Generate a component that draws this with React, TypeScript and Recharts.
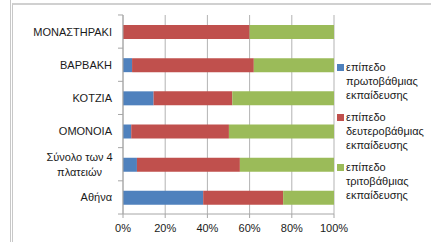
import { BarChart, Bar, XAxis, YAxis, CartesianGrid } from 'recharts';

const categories = [
  'ΜΟΝΑΣΤΗΡΑΚΙ',
  'ΒΑΡΒΑΚΗ',
  'ΚΟΤΖΙΑ',
  'ΟΜΟΝΟΙΑ',
  'Σύνολο των 4|πλατειών',
  'Αθήνα',
];

const primary = [0, 4.3, 14.5, 3.9, 6.6, 38];
const secondary = [60, 57.7, 37.3, 46.3, 48.8, 37.9];
const tertiary = [40, 38, 48.2, 49.8, 44.6, 24.1];

const xTicks = [0, 20, 40, 60, 80, 100];

const seriesNames = [
  'επίπεδο πρωτοβάθμιας εκπαίδευσης',
  'επίπεδο δευτεροβάθμιας εκπαίδευσης',
  'επίπεδο τριτοβάθμιας εκπαίδευσης',
];
const colors = ['#4f81bd', '#c0504d', '#9bbb59'];

const data = categories.map((name, i) => ({
  name,
  p: primary[i],
  s: secondary[i],
  t: tertiary[i],
}));

const AXIS_X = 123;
const HALF_BAND = 16.6;
const FONT = '"Liberation Sans", Arial, sans-serif';

function CategoryTick(props: any) {
  const { y, payload, index } = props;
  const lines: string[] = String(payload.value).split('|');
  const last = index === categories.length - 1;
  const maxLen = Math.max(...lines.map((l) => l.length));
  const multi = lines.length > 1;
  const tx = multi ? AXIS_X - 11 - (maxLen * 5.4) / 2 : AXIS_X - 11;
  return (
    <g>
      <line x1={AXIS_X - 5} x2={AXIS_X} y1={y - HALF_BAND} y2={y - HALF_BAND} stroke="#a6a6a6" />
      {last && (
        <line x1={AXIS_X - 5} x2={AXIS_X} y1={y + HALF_BAND} y2={y + HALF_BAND} stroke="#a6a6a6" />
      )}
      {lines.map((l, k) => (
        <text
          key={k}
          x={tx}
          y={y + (k - (lines.length - 1) / 2) * 15}
          dy="0.36em"
          textAnchor={multi ? 'middle' : 'end'}
          fontSize={11}
          fontFamily={FONT}
          fill="#1a1a1a"
        >
          {l}
        </text>
      ))}
    </g>
  );
}

function ChartLegend() {
  return (
    <div
      style={{
        position: 'absolute',
        left: 337,
        top: 60,
        width: 94,
        fontFamily: FONT,
        fontSize: 11,
        color: '#1a1a1a',
      }}
    >
      {seriesNames.map((name, i) => (
        <div key={i} style={{ display: 'flex', alignItems: 'flex-start', marginBottom: 8 }}>
          <div
            style={{
              width: 7,
              height: 7,
              background: colors[i],
              marginTop: 4,
              marginRight: 2,
              flex: 'none',
            }}
          />
          <div style={{ lineHeight: '14px' }}>
            {name.split(' ').map((w, k) => (
              <div key={k}>{w}</div>
            ))}
          </div>
        </div>
      ))}
    </div>
  );
}

export default function App() {
  return (
    <div style={{ position: 'absolute', left: 0, top: 0, width: 431, height: 242, background: '#fff' }}>
      <div
        style={{
          position: 'absolute',
          left: 10,
          top: 0,
          width: 1,
          height: 242,
          background: '#c8c8c8',
        }}
      />
      <div
        style={{
          position: 'absolute',
          left: 12,
          top: 3,
          width: 419,
          height: 239,
          borderLeft: '1px solid #c8c8c8',
          borderTop: '2px solid #d0d0d0',
        }}
      />
      <div style={{ position: 'absolute', left: 0, top: 0 }}>
        <BarChart
          width={431}
          height={242}
          data={data}
          layout="vertical"
          margin={{ top: 15, right: 97, bottom: 0, left: 0 }}
          barSize={14}
        >
          <CartesianGrid horizontal={false} stroke="#b3b3b3" />
          <XAxis
            type="number"
            domain={[0, 100]}
            ticks={xTicks}
            tickFormatter={(v: number) => `${v}%`}
            height={28}
            tickSize={4}
            tickMargin={6}
            stroke="#a6a6a6"
            tick={{ fontSize: 11, fontFamily: FONT, fill: '#1a1a1a' }}
            interval={0}
          />
          <YAxis
            type="category"
            dataKey="name"
            width={AXIS_X}
            tickLine={false}
            stroke="#a6a6a6"
            tick={<CategoryTick />}
            interval={0}
          />
          <Bar dataKey="p" stackId="a" fill={colors[0]} name={seriesNames[0]} isAnimationActive={false} />
          <Bar dataKey="s" stackId="a" fill={colors[1]} name={seriesNames[1]} isAnimationActive={false} />
          <Bar dataKey="t" stackId="a" fill={colors[2]} name={seriesNames[2]} isAnimationActive={false} />
        </BarChart>
      </div>
      <ChartLegend />
    </div>
  );
}
